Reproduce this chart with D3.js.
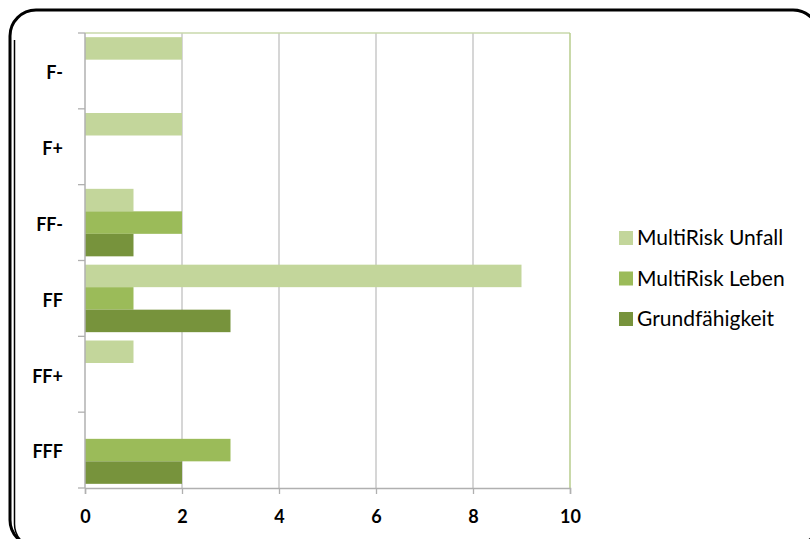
<!DOCTYPE html>
<html>
<head>
<meta charset="utf-8">
<script src="https://cdn.jsdelivr.net/npm/d3@7"></script>
<style>
  body { margin: 0; background: #fff; }
  svg { display: block; }
  text { font-family: Lato, "Open Sans", sans-serif; fill: #000; }
</style>
</head>
<body>
<svg id="chart" width="810" height="539"></svg>
<script>
// categories top to bottom
var categories = ["F-", "F+", "FF-", "FF", "FF+", "FFF"];
var seriesNames = ["MultiRisk Unfall", "MultiRisk Leben", "Grundfähigkeit"];
var seriesColors = ["#c3d69b", "#9bbb59", "#77933c"];

// values per category, same order as categories
var unfall = [2, 2, 1, 9, 1, 0];
var leben = [0, 0, 2, 1, 0, 3];
var grund = [0, 0, 1, 3, 0, 2];

var xTicks = [0, 2, 4, 6, 8, 10];

var svg = d3.select("#chart");

// frame with rounded corners (slightly past the right and bottom edge)
svg.append("clipPath").attr("id", "leftClip")
  .append("rect").attr("x", 0).attr("y", 40).attr("width", 40).attr("height", 499);

svg.append("rect")
    .attr("x", 10).attr("y", 10)
    .attr("width", 809).attr("height", 536)
    .attr("rx", 26).attr("ry", 26)
    .attr("fill", "none")
    .attr("stroke", "#000")
    .attr("stroke-width", 3);
svg.append("rect")
    .attr("x", 14.5).attr("y", 12)
    .attr("width", 800).attr("height", 536)
    .attr("rx", 24).attr("ry", 24)
    .attr("fill", "none")
    .attr("stroke", "#000")
    .attr("stroke-width", 1.5)
    .attr("clip-path", "url(#leftClip)");

var plotLeft = 85, plotRight = 570, plotTop = 33, plotBottom = 488;

var x = d3.scaleLinear().domain([0, 10]).range([plotLeft, plotRight]);

var y = d3.scaleBand()
    .domain(categories)
    .range([plotTop, plotBottom])
    .paddingInner(0.11)
    .paddingOuter(0.055);

var ySub = d3.scaleBand()
    .domain(d3.range(seriesNames.length))
    .range([0, y.bandwidth()]);

// vertical grid lines
svg.append("g")
  .selectAll("line")
  .data(xTicks.slice(1, -1))
  .enter().append("line")
    .attr("x1", function(d) { return x(d); })
    .attr("x2", function(d) { return x(d); })
    .attr("y1", plotTop).attr("y2", plotBottom)
    .attr("stroke", "#c0c0c0")
    .attr("stroke-width", 1.3);

// plot area border top / right
svg.append("line")
    .attr("x1", plotLeft).attr("x2", plotRight)
    .attr("y1", plotTop).attr("y2", plotTop)
    .attr("stroke", "#c9d9ab").attr("stroke-width", 1.5);
svg.append("line")
    .attr("x1", plotRight).attr("x2", plotRight)
    .attr("y1", plotTop).attr("y2", plotBottom)
    .attr("stroke", "#b7cd8d").attr("stroke-width", 1.5);

// bars
var rows = categories.map(function(c, i) {
  return { cat: c, vals: [unfall[i], leben[i], grund[i]] };
});

var groups = svg.append("g")
  .selectAll("g")
  .data(rows)
  .enter().append("g")
    .attr("transform", function(d) { return "translate(0," + y(d.cat) + ")"; });

groups.selectAll("rect")
  .data(function(d) { return d.vals.map(function(v, k) { return { v: v, k: k }; }); })
  .enter().filter(function(d) { return d.v > 0; }).append("rect")
    .attr("x", x(0))
    .attr("y", function(d) { return ySub(d.k); })
    .attr("width", function(d) { return x(d.v) - x(0); })
    .attr("height", ySub.bandwidth())
    .attr("fill", function(d) { return seriesColors[d.k]; });

// x axis
var xAxis = svg.append("g")
    .attr("transform", "translate(0," + plotBottom + ")")
    .call(d3.axisBottom(x).tickValues(xTicks).tickSize(6).tickPadding(16));
xAxis.select(".domain").attr("stroke", "#b0b0b0").attr("stroke-width", 1.5);
xAxis.selectAll(".tick line").attr("stroke", "#b0b0b0").attr("stroke-width", 1.3);
xAxis.selectAll("text")
    .style("font-family", "Lato, sans-serif")
    .style("font-size", "18px")
    .style("font-weight", "bold")
    .attr("fill", "#000");

// y axis: ticks at category boundaries
var yAxis = svg.append("g").attr("transform", "translate(" + plotLeft + ",0)");
yAxis.append("line")
    .attr("y1", plotTop).attr("y2", plotBottom)
    .attr("stroke", "#b0b0b0").attr("stroke-width", 1.5);
var boundaries = categories.map(function(c) { return y(c) - y.step() * y.paddingInner() / 2; })
    .concat([plotBottom]);
yAxis.selectAll(".ytick")
  .data(boundaries)
  .enter().append("line")
    .attr("x1", -7).attr("x2", 0)
    .attr("y1", function(d) { return d; })
    .attr("y2", function(d) { return d; })
    .attr("stroke", "#b0b0b0").attr("stroke-width", 1.3);
yAxis.selectAll(".ylabel")
  .data(categories)
  .enter().append("text")
    .attr("x", -22)
    .attr("y", function(d) { return y(d) + y.bandwidth() / 2 + 2; })
    .attr("dy", "0.35em")
    .attr("text-anchor", "end")
    .style("font-size", "18px")
    .style("font-weight", "bold")
    .text(function(d) { return d; });

// legend
var legend = svg.append("g")
  .selectAll("g")
  .data(seriesNames)
  .enter().append("g")
    .attr("transform", function(d, i) { return "translate(619," + (238 + i * 40.5) + ")"; });
legend.append("rect")
    .attr("x", 0).attr("y", -7)
    .attr("width", 14).attr("height", 14)
    .attr("fill", function(d, i) { return seriesColors[i]; });
legend.append("text")
    .attr("x", 18)
    .attr("dy", "0.35em")
    .style("font-size", "21px")
    .attr("fill", "#222")
    .text(function(d) { return d; });
</script>
</body>
</html>
